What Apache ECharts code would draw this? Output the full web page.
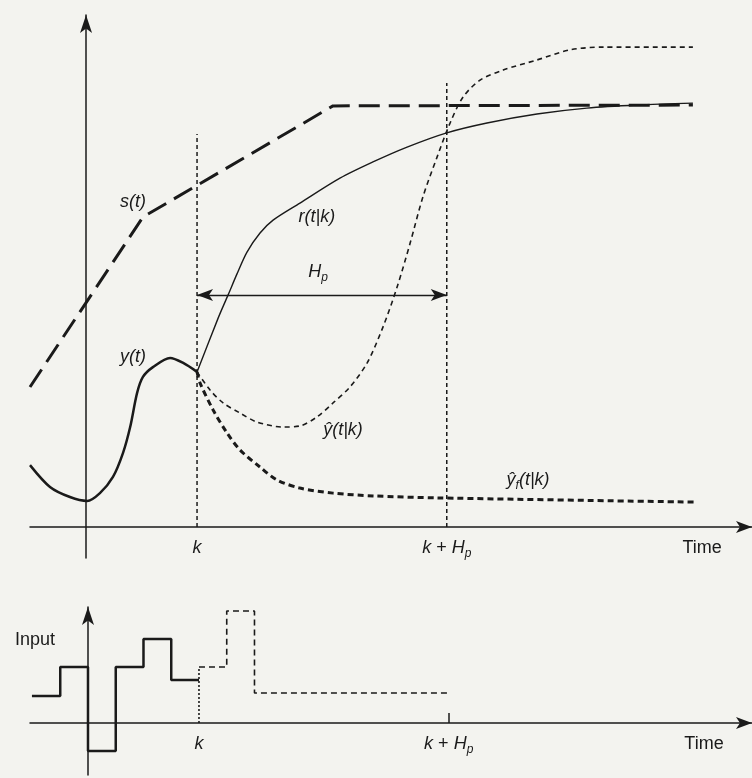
<!DOCTYPE html>
<html>
<head>
<meta charset="utf-8">
<script src="https://cdn.jsdelivr.net/npm/echarts@6/dist/echarts.min.js"></script>
<style>
html,body{margin:0;padding:0;background:#f3f3ef;}
#c{width:752px;height:778px;}
</style>
</head>
<body>
<div id="c"></div>
<script>
// ---- data (time in sampling steps, amplitudes in arbitrary units) ----
const K = 4;
const HP = 9;
const sTraj = [[-2.02, 5.0], [2.05, 11.07], [8.9, 15.04], [21.87, 15.07]];
const yPast = [[-2.02, 2.21], [-1.30, 1.43], [-0.58, 1.07], [0.04, 0.93], [0.50, 1.21], [0.97, 1.79],
  [1.33, 2.64], [1.59, 3.57], [1.84, 4.79], [2.05, 5.36], [2.41, 5.71], [3.03, 6.04], [3.50, 5.86], [4.0, 5.54]];
const rRef = [[4.0, 5.54], [4.76, 7.46], [5.12, 8.29], [5.44, 9.04], [5.80, 9.82], [6.27, 10.5], [6.74, 10.96],
  [7.71, 11.57], [9.15, 12.46], [10.34, 13.04], [11.57, 13.57], [12.97, 14.07], [14.45, 14.43],
  [16.25, 14.75], [18.05, 14.96], [19.86, 15.07], [21.87, 15.14]];
const yHat = [[4.0, 5.54], [4.47, 4.89], [4.94, 4.43], [5.55, 4.07], [6.16, 3.75], [7.10, 3.57], [7.71, 3.61],
  [8.32, 3.93], [8.90, 4.43], [9.51, 5.0], [10.13, 5.86], [10.70, 7.14], [11.21, 8.57], [11.68, 10.14],
  [12.14, 11.79], [12.65, 13.21], [13.12, 14.43], [13.59, 15.36], [14.20, 15.96], [15.03, 16.32],
  [16.25, 16.68], [17.44, 17.04], [18.63, 17.14], [21.87, 17.14]];
const yFree = [[4.0, 5.54], [4.11, 5.14], [4.58, 4.18], [5.08, 3.36], [5.55, 2.75], [6.27, 2.14], [6.88, 1.68],
  [7.71, 1.39], [8.90, 1.21], [10.34, 1.11], [12.65, 1.04], [21.98, 0.89]];
const kLineTop = 14.04;
const khpLineTop = 15.86;
const hpArrowLevel = 8.29;
const inputPast = [[-2.02, 0.96], [-1, 2.0], [0, -1.0], [1, 2.0], [2, 3.0], [3, 1.54], [4, 1.54]];
const inputFuture = [[4, 2.0], [5, 4.0], [6, 1.07], [13, 1.07]];
const timeLabelPos = 22.2;
const tickValues = [K, K + HP, timeLabelPos];
const tickTexts = ['{i|k}', '{i|k} + {i|H}{s|p}', 'Time'];
const topLabelTexts = ['{i|s(t)}', '{i|r(t|k)}', '{i|H}{s|p}', '{i|y(t)}', '{i|ŷ(t|k)}', '{i|ŷ}{s|f}{i|(t|k)}'];
const topLabelPos = [[1.69, 11.61], [8.32, 11.07], [8.36, 9.11], [1.69, 6.07], [9.26, 3.46], [15.93, 1.68]];
const bottomLabelTexts = ['Input'];
const bottomLabelPos = [[-1.91, 2.96]];

// ---- styles ----
const INK = '#1a1a1a';
const FONT = "'Liberation Sans', Arial, Helvetica, sans-serif";
const rich = {
  i: { fontStyle: 'italic', fontSize: 18, fontFamily: FONT, color: INK, lineHeight: 24 },
  s: { fontStyle: 'italic', fontSize: 12, fontFamily: FONT, color: INK, verticalAlign: 'bottom', lineHeight: 12 }
};
function xAxisCfg(gi, min, max, tick) {
  return {
    type: 'value', gridIndex: gi, min: min, max: max,
    splitLine: { show: false },
    axisLine: { show: true, onZero: true, symbol: ['none', 'arrow'], symbolSize: [9, 16],
      lineStyle: { color: INK, width: 1.5 } },
    axisTick: tick ? { show: true, inside: true, length: 10, customValues: [K + HP], lineStyle: { color: INK, width: 1.5 } } : { show: false },
    axisLabel: { show: false }
  };
}
function yAxisCfg(gi, min, max) {
  return {
    type: 'value', gridIndex: gi, min: min, max: max,
    splitLine: { show: false }, axisTick: { show: false }, axisLabel: { show: false },
    axisLine: { show: true, onZero: true, symbol: ['none', 'arrow'], symbolSize: [9, 18],
      lineStyle: { color: INK, width: 1.5 } }
  };
}
function lineS(gi, data, opt) {
  return Object.assign({
    type: 'line', xAxisIndex: gi, yAxisIndex: gi, data: data, showSymbol: false, symbol: 'none',
    silent: true, z: 3
  }, opt);
}
function labelSeries(gi, texts, pos, position, distance) {
  return {
    type: 'scatter', xAxisIndex: gi, yAxisIndex: gi, symbolSize: 0, silent: true, z: 5,
    itemStyle: { color: INK, opacity: 1 },
    data: pos.map((p, i) => ({ value: p, txt: texts[i] })),
    label: { show: true, position: position, distance: distance, formatter: p => p.data.txt, opacity: 1,
      textBorderWidth: 0, fontSize: 18, fontFamily: FONT, color: INK, lineHeight: 24, rich: rich }
  };
}

const chart = echarts.init(document.getElementById('c'));
chart.setOption({
  animation: false,
  backgroundColor: '#f3f3ef',
  grid: [
    { left: 30, width: 722, top: 15, height: 543, containLabel: false, outerBoundsMode: 'none' },
    { left: 30, width: 722, top: 607, height: 168, containLabel: false, outerBoundsMode: 'none' }
  ],
  xAxis: [xAxisCfg(0, -2.02, 24, false), xAxisCfg(1, -2.09, 23.93, true)],
  yAxis: [yAxisCfg(0, -1.107, 18.286), yAxisCfg(1, -1.857, 4.143)],
  series: [
    lineS(0, sTraj, { lineStyle: { color: INK, width: 3, type: [21, 9] } }),
    lineS(0, yPast, { smooth: 0.3, lineStyle: { color: INK, width: 2.5 } }),
    lineS(0, rRef, { smooth: 0.3, lineStyle: { color: INK, width: 1.4 } }),
    lineS(0, yHat, { smooth: 0.3, lineStyle: { color: INK, width: 1.6, type: [5, 4] } }),
    lineS(0, yFree, { smooth: 0.3, lineStyle: { color: INK, width: 3, type: [6, 4] } }),
    lineS(0, [[K, 0], [K, kLineTop]], { lineStyle: { color: INK, width: 1.5, type: [4, 3] } }),
    lineS(0, [[K + HP, 0], [K + HP, khpLineTop]], { lineStyle: { color: INK, width: 1.5, type: [4, 3] },
      markLine: { silent: true, symbol: ['arrow', 'arrow'], symbolSize: [9, 16], label: { show: false },
        lineStyle: { color: INK, width: 1.4, type: 'solid' },
        data: [[{ coord: [K, hpArrowLevel] }, { coord: [K + HP, hpArrowLevel] }]] } }),
    labelSeries(0, topLabelTexts, topLabelPos, 'inside', 0),
    labelSeries(0, tickTexts, tickValues.map(v => [v, 0]), 'bottom', 9),
    lineS(1, inputPast, { step: 'end', lineStyle: { color: INK, width: 2.5 } }),
    lineS(1, inputFuture, { step: 'end', lineStyle: { color: INK, width: 1.6, type: [6, 4] } }),
    lineS(1, [[K, 0], [K, inputFuture[0][1]]], { lineStyle: { color: INK, width: 1.6, type: [2, 2] } }),
    labelSeries(1, bottomLabelTexts, bottomLabelPos, 'inside', 0),
    labelSeries(1, tickTexts, tickValues.map(v => [v, 0]), 'bottom', 9)
  ]
});
</script>
</body>
</html>
